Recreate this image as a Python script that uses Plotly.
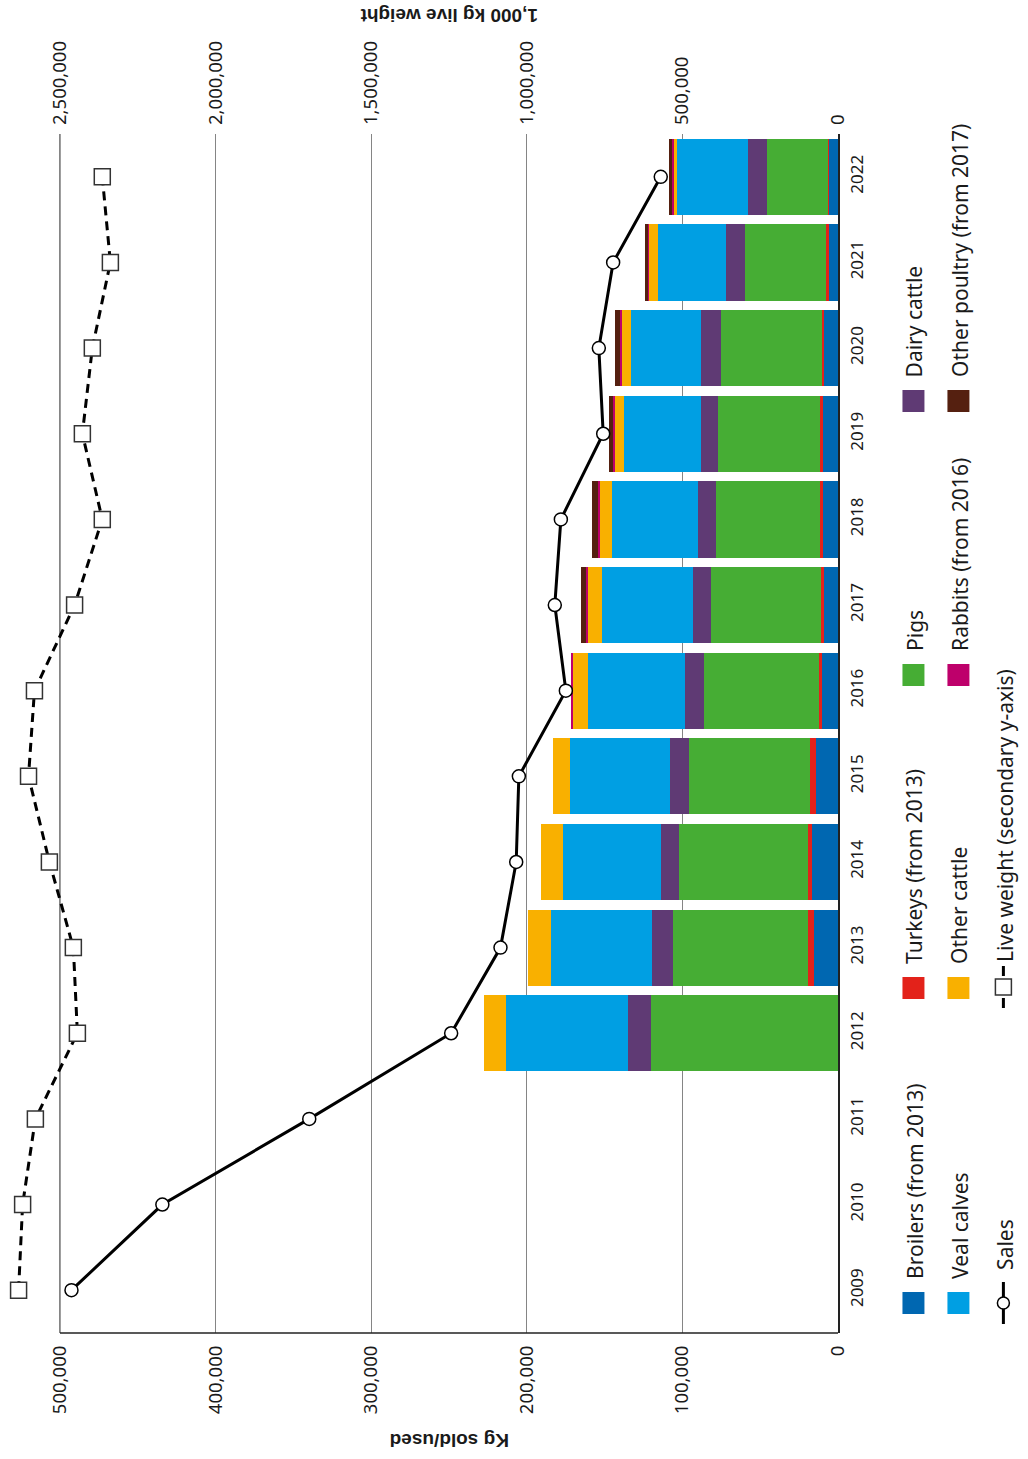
import plotly.graph_objects as go

# ---------------- data ----------------
years = ["2009", "2010", "2011", "2012", "2013", "2014", "2015", "2016",
         "2017", "2018", "2019", "2020", "2021", "2022"]

broilers = [None, None, None, None, 15400, 16500, 13900, 10300, 9000, 9600, 9600, 9000, 5800, 5800]
turkeys = [None, None, None, None, 3900, 2800, 4000, 1900, 1900, 1900, 1900, 1300, 1900, 600]
pigs = [None, None, None, 120100, 86700, 82900, 77700, 73900, 70600, 66800, 65500, 64900, 52000, 39400]
dairy_cattle = [None, None, None, 14800, 13500, 11600, 12200, 12200, 11600, 11600, 10900, 12800, 12200, 12000]
veal_calves = [None, None, None, 78400, 64900, 62900, 64200, 62300, 58400, 55200, 49500, 45000, 43700, 45600]
other_cattle = [None, None, None, 14100, 14800, 14100, 10900, 10300, 9600, 8300, 6400, 6400, 6400, 2600]
rabbits = [None, None, None, None, None, None, None, 600, 600, 600, 600, 600, 300, 600]
other_poultry = [None, None, None, None, None, None, None, None, 3200, 3900, 2600, 3200, 1900, 1900]

sales = [492600, 434200, 339800, 248600, 216900, 206800, 205100, 174900,
         182000, 178100, 150900, 153700, 144500, 113900]
live_weight = [2633000, 2620000, 2579000, 2444000, 2457000, 2534000, 2601000,
               2582000, 2453000, 2364000, 2428000, 2396000, 2338000, 2364000]

primary_ticks = [0, 100000, 200000, 300000, 400000, 500000]
secondary_ticks = [0, 500000, 1000000, 1500000, 2000000, 2500000]

series = [
    ("Broilers (from 2013)", broilers, "#0067B1"),
    ("Turkeys (from 2013)", turkeys, "#E3221A"),
    ("Pigs", pigs, "#46AD34"),
    ("Dairy cattle", dairy_cattle, "#5F3A74"),
    ("Veal calves", veal_calves, "#009FE3"),
    ("Other cattle", other_cattle, "#F9B000"),
    ("Rabbits (from 2016)", rabbits, "#BE006B"),
    ("Other poultry (from 2017)", other_poultry, "#552010"),
]

# ---------------- layout geometry (pixels) ----------------
W, H = 1028, 1459
L, R, T, B = 5, 838.5, 134, 1333
PX_PER_UNIT = 1.557 / 1000.0
x_max = (R - L) / PX_PER_UNIT


def px(xp):
    return (xp - L) / (R - L)


def py(yp):
    return (B - yp) / (B - T)


TICK_FONT = dict(family="Noto Sans", size=18.5, color="#1a1a1a")
LEG_FONT = dict(family="Noto Sans", size=21, color="#1a1a1a")
TITLE_FONT = dict(family="Liberation Sans", size=19, color="#1a1a1a")

fig = go.Figure()

for name, vals, col in series:
    fig.add_trace(go.Bar(
        y=years, x=vals, orientation="h", name=name,
        marker=dict(color=col, line=dict(width=0)),
        xaxis="x", yaxis="y", showlegend=False,
    ))

fig.add_trace(go.Scatter(
    y=years, x=live_weight, mode="lines+markers", name="Live weight",
    xaxis="x2", yaxis="y",
    line=dict(color="black", width=3, dash="9px,6px"),
    marker=dict(symbol="square", size=16, color="white",
                line=dict(color="#333333", width=1.5)),
    showlegend=False, cliponaxis=False,
))

fig.add_trace(go.Scatter(
    y=years, x=sales, mode="lines+markers", name="Sales",
    xaxis="x", yaxis="y",
    line=dict(color="black", width=3),
    marker=dict(symbol="circle", size=13, color="white",
                line=dict(color="black", width=1.5)),
    showlegend=False, cliponaxis=False,
))

shapes = []
annotations = []

# bottom axis line and 500k frame line
shapes.append(dict(type="line", xref="x", yref="paper", x0=0, x1=500000, y0=0, y1=0,
                   line=dict(color="#222222", width=1.5), layer="above"))
shapes.append(dict(type="line", xref="x", yref="paper", x0=500000, x1=500000, y0=0, y1=1,
                   line=dict(color="#333333", width=1), layer="below"))

# axis titles (upside-down, as in the rotated original)
annotations.append(dict(text="<b>Kg sold/used</b>", xref="x", yref="paper",
                        x=250000, y=py(1441), showarrow=False, textangle=180,
                        font=TITLE_FONT, xanchor="center", yanchor="middle"))
annotations.append(dict(text="<b>1,000 kg live weight</b>", xref="x", yref="paper",
                        x=250000, y=py(16), showarrow=False, textangle=180,
                        font=TITLE_FONT, xanchor="center", yanchor="middle"))

# custom legend (rotated)
legend_items = [
    ("Broilers (from 2013)", "#0067B1", 914, 1303),
    ("Turkeys (from 2013)", "#E3221A", 914, 988),
    ("Pigs", "#46AD34", 914, 675),
    ("Dairy cattle", "#5F3A74", 914, 401),
    ("Veal calves", "#009FE3", 959, 1303),
    ("Other cattle", "#F9B000", 959, 988),
    ("Rabbits (from 2016)", "#BE006B", 959, 675),
    ("Other poultry (from 2017)", "#552010", 959, 401),
]
for label, col, cx, cy in legend_items:
    shapes.append(dict(type="rect", xref="paper", yref="paper",
                       x0=px(cx - 11), x1=px(cx + 11), y0=py(cy + 11), y1=py(cy - 11),
                       fillcolor=col, line=dict(width=0)))
    annotations.append(dict(text=label, xref="paper", yref="paper",
                            x=px(cx + 1), y=py(cy - 22), showarrow=False, textangle=-90,
                            font=LEG_FONT, xanchor="center", yanchor="bottom"))

# Sales legend symbol
sx, sy = 1004, 1303
shapes.append(dict(type="line", xref="paper", yref="paper",
                   x0=px(sx), x1=px(sx), y0=py(sy + 21), y1=py(sy - 21),
                   line=dict(color="black", width=3)))
shapes.append(dict(type="circle", xref="paper", yref="paper",
                   x0=px(sx - 6), x1=px(sx + 6), y0=py(sy + 6), y1=py(sy - 6),
                   fillcolor="white", line=dict(color="black", width=1.5)))
annotations.append(dict(text="Sales", xref="paper", yref="paper",
                        x=px(sx + 1), y=py(sy - 31), showarrow=False, textangle=-90,
                        font=LEG_FONT, xanchor="center", yanchor="bottom"))

# Live weight legend symbol
lx, ly = 1004, 987
shapes.append(dict(type="line", xref="paper", yref="paper",
                   x0=px(lx), x1=px(lx), y0=py(ly + 21), y1=py(ly + 11),
                   line=dict(color="black", width=3)))
shapes.append(dict(type="line", xref="paper", yref="paper",
                   x0=px(lx), x1=px(lx), y0=py(ly - 11), y1=py(ly - 21),
                   line=dict(color="black", width=3)))
shapes.append(dict(type="rect", xref="paper", yref="paper",
                   x0=px(lx - 8), x1=px(lx + 8), y0=py(ly + 8), y1=py(ly - 8),
                   fillcolor="white", line=dict(color="#333333", width=1.5)))
annotations.append(dict(text="Live weight (secondary y-axis)", xref="paper", yref="paper",
                        x=px(lx + 1), y=py(ly - 23), showarrow=False, textangle=-90,
                        font=LEG_FONT, xanchor="center", yanchor="bottom"))

fig.update_layout(
    width=W, height=H,
    margin=dict(l=L, r=W - R, t=T, b=H - B, pad=0, autoexpand=False),
    paper_bgcolor="white", plot_bgcolor="white",
    barmode="stack", bargap=0.11,
    showlegend=False,
    xaxis=dict(
        range=[x_max, 0], tickvals=primary_ticks, tickformat=",d",
        tickangle=-90, tickfont=TICK_FONT, side="bottom", automargin=False,
        showgrid=True, gridcolor="#858585", gridwidth=1.3,
        zeroline=False, showline=False, ticks="", ticklabelstandoff=8,
    ),
    xaxis2=dict(
        range=[x_max * 5, 0], tickvals=secondary_ticks, tickformat=",d",
        tickangle=-90, tickfont=TICK_FONT, side="top", overlaying="x", automargin=False,
        showgrid=False, zeroline=False, showline=False, ticks="", ticklabelstandoff=8,
    ),
    yaxis=dict(
        type="category", categoryorder="array", categoryarray=years,
        range=[-0.5, len(years) - 0.5],
        side="right", tickangle=-90, tickfont=dict(family="Noto Sans", size=17, color="#1a1a1a"),
        showline=True, linecolor="#222222", linewidth=1.5, showgrid=False, automargin=False,
        zeroline=False, ticks="", ticklabelstandoff=3,
    ),
    shapes=shapes,
    annotations=annotations,
)

fig.write_html("out.html", config={"displayModeBar": False},
               post_script="document.body.style.margin='0px';")
